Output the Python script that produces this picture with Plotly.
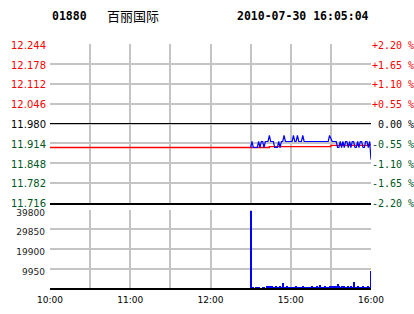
import plotly.graph_objects as go

# ---------------- data ----------------
symbol = "01880"
stock_name = "百丽国际"
timestamp = "2010-07-30 16:05:04"
prev_close = 11.980

price_ticks = [11.716, 11.782, 11.848, 11.914, 11.980, 12.046, 12.112, 12.178, 12.244]
vol_ticks = [9950, 19900, 29850, 39800]
time_tick_minutes = [0, 60, 120, 180, 240]
time_tick_labels = ["10:00", "11:00", "12:00", "15:00", "16:00"]

start_minute = 150  # first traded minute (14:30)
price = [
    11.90, 11.92, 11.90, 11.90, 11.90, 11.90, 11.92, 11.90, 11.92, 11.92,
    11.90, 11.92, 11.92, 11.92, 11.94, 11.92, 11.92, 11.92, 11.90, 11.90,
    11.90, 11.92, 11.90, 11.92, 11.92, 11.94, 11.92, 11.92, 11.92, 11.92,
    11.92, 11.92, 11.94, 11.92, 11.92, 11.94, 11.92, 11.92, 11.92, 11.94,
    11.92, 11.92, 11.92, 11.92, 11.92, 11.92, 11.92, 11.92, 11.92, 11.92,
    11.92, 11.92, 11.92, 11.92, 11.92, 11.92, 11.92, 11.92, 11.92, 11.94,
    11.93, 11.92, 11.92, 11.92, 11.92, 11.90, 11.90, 11.92, 11.90, 11.92,
    11.90, 11.92, 11.92, 11.90, 11.92, 11.90, 11.92, 11.92, 11.90, 11.90,
    11.92, 11.90, 11.92, 11.92, 11.90, 11.90, 11.92, 11.92, 11.90, 11.92,
    11.86,
]
volume = [
    39300, 1000, 1000, 0, 1000, 1100, 1000, 0, 0, 1000,
    1100, 0, 1200, 1100, 1500, 1200, 1300, 1100, 1000, 1200,
    1100, 1000, 1200, 1100, 2800, 1100, 1000, 1200, 1000, 1100,
    1000, 900, 1100, 1000, 1200, 1000, 900, 1100, 1000, 1200,
    1000, 1100, 900, 1000, 1100, 1000, 1200, 1000, 1100, 1000,
    1200, 1000, 1700, 1000, 1100, 1000, 1200, 1000, 1100, 1500,
    1000, 1200, 1600, 1000, 1200, 2200, 1300, 1000, 1200, 1000,
    1500, 1100, 1000, 1200, 1000, 1300, 1000, 3300, 1100, 1000,
    1200, 1000, 1100, 1000, 1200, 1100, 1000, 1100, 1200, 1000,
    8900,
]
avg_step_minutes = [0, 164, 210, 238, 240]
avg_step_values = [11.900, 11.903, 11.907, 11.909, 11.909]

minutes = list(range(start_minute, start_minute + len(price)))

# ---------------- styling ----------------
W, H = 414, 314
RED = "#FF0000"
GREEN = "#005522"
GRID = "#C4C4C4"
X0, X1 = 50 / W, 371 / W
PRICE_DOM = [1 - 202.7 / H, 1 - 44.3 / H]
VOL_DOM = [1 - 288.3 / H, 1 - 209.5 / H]


def color_for(p):
    if abs(p - prev_close) < 1e-9:
        return "#000000"
    return RED if p > prev_close else GREEN


left_text = [f'<span style="color:{color_for(p)}">{p:.3f}</span>' for p in price_ticks]
right_text = []
for p in price_ticks:
    pct = (p - prev_close) / prev_close * 100
    if abs(pct) < 1e-9:
        s = "\u00a00.00\u00a0%"
    else:
        s = f"{pct:+.2f}\u00a0%"
    right_text.append(f'<span style="color:{color_for(p)}">{s}</span>')

fig = go.Figure()
fig.add_trace(go.Scatter(x=avg_step_minutes, y=avg_step_values, mode="lines",
                         line=dict(color=RED, width=1.3, shape="hv"),
                         xaxis="x", yaxis="y", hoverinfo="skip"))
fig.add_trace(go.Scatter(x=minutes, y=price, mode="lines",
                         line=dict(color="#0000FF", width=1.2),
                         xaxis="x", yaxis="y"))
fig.add_trace(go.Scatter(x=[0, 240], y=[prev_close, prev_close], mode="lines",
                         line=dict(color="rgba(0,0,0,0)", width=0),
                         xaxis="x", yaxis="y2", hoverinfo="skip"))
fig.add_trace(go.Bar(x=minutes, y=volume, width=0.8,
                     marker=dict(color="#0000FF", line=dict(width=0)),
                     xaxis="x2", yaxis="y3"))

fig.add_shape(type="line", xref="x domain", yref="y", x0=0, x1=1,
              y0=prev_close, y1=prev_close, line=dict(color="#000000", width=1))

grid_common = dict(showgrid=True, gridcolor=GRID, gridwidth=1.5, zeroline=False,
                   automargin=False)
minor_grid = dict(dtick=30, tick0=0, showgrid=True, gridcolor=GRID, gridwidth=1.5)

fig.update_layout(
    width=W, height=H,
    margin=dict(l=0, r=0, t=0, b=0),
    paper_bgcolor="white", plot_bgcolor="white",
    showlegend=False,
    xaxis=dict(domain=[X0, X1], range=[0, 240], anchor="y",
               tickvals=time_tick_minutes, showticklabels=False, ticks="",
               minor=minor_grid,
               showline=True, linecolor="#000000", linewidth=1.5,
               **grid_common),
    yaxis=dict(domain=PRICE_DOM, range=[price_ticks[0], price_ticks[-1]], anchor="x",
               tickvals=price_ticks, ticktext=left_text, ticks="",
               tickfont=dict(family="DejaVu Sans", size=10),
               ticklabelstandoff=3, ticklabelshift=1,
               **grid_common),
    yaxis2=dict(overlaying="y", side="right", anchor="x",
                range=[price_ticks[0], price_ticks[-1]],
                tickvals=price_ticks, ticktext=right_text, ticks="",
                tickfont=dict(family="DejaVu Sans Mono", size=10),
                ticklabelshift=1,
                showgrid=False, zeroline=False, automargin=False),
    xaxis2=dict(domain=[X0, X1], range=[0, 240], anchor="y3",
                tickvals=time_tick_minutes, ticktext=time_tick_labels, ticks="",
                tickfont=dict(family="DejaVu Sans", size=9, color="#000000"),
                ticklabelstandoff=2,
                minor=minor_grid,
                showline=True, linecolor="#000000", linewidth=1.5,
                **grid_common),
    yaxis3=dict(domain=VOL_DOM, range=[0, vol_ticks[-1]], anchor="x2",
                tickvals=vol_ticks, ticktext=[str(v) for v in vol_ticks], ticks="",
                tickfont=dict(family="DejaVu Sans", size=9, color="#222222"),
                ticklabelstandoff=4, ticklabelshift=3,
                **grid_common),
    bargap=0,
)

hdr_font = dict(family="DejaVu Sans Mono", size=11.5, color="#000000")
fig.add_annotation(text=f"<b>{symbol}</b>", xref="paper", yref="paper",
                   x=50 / W, y=1 - 16 / H, xanchor="left", yanchor="middle",
                   showarrow=False, font=hdr_font)
fig.add_annotation(text=stock_name, xref="paper", yref="paper",
                   x=105 / W, y=1 - 16 / H, xanchor="left", yanchor="middle",
                   showarrow=False,
                   font=dict(family="Noto Sans CJK SC", size=13, color="#000000"))
fig.add_annotation(text=f"<b>{timestamp}</b>", xref="paper", yref="paper",
                   x=371 / W, y=1 - 16 / H, xanchor="right", yanchor="middle",
                   showarrow=False, font=hdr_font)

fig.write_html("out.html")
